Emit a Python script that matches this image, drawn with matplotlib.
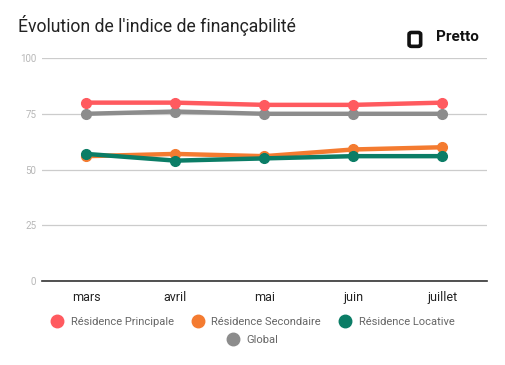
import matplotlib.pyplot as plt
from matplotlib.lines import Line2D
from matplotlib.patches import FancyBboxPatch

plt.rcParams['font.family'] = ['Roboto', 'DejaVu Sans']

months = ['mars', 'avril', 'mai', 'juin', 'juillet']
principale = [80, 80, 79, 79, 80]
secondaire = [56, 57, 56, 59, 60]
locative = [57, 54, 55, 56, 56]
global_idx = [75, 76, 75, 75, 75]

series = [
    ('Résidence Principale', principale, '#ff5a5f'),
    ('Résidence Secondaire', secondaire, '#f47b30'),
    ('Résidence Locative', locative, '#0b7d66'),
    ('Global', global_idx, '#8c8c8c'),
]

fig = plt.figure(figsize=(5.05, 3.65), dpi=100)
ax = fig.add_axes([0.083, 0.230, 0.881, 0.611])

x = range(len(months))
# global drawn first so it sits behind
for name, vals, col in [series[3], series[0], series[1], series[2]]:
    ax.plot(x, vals, color=col, lw=3.2, marker='o', ms=7, solid_capstyle='round', zorder=3)

ax.set_ylim(0, 100)
ax.set_xlim(-0.5, 4.5)
ax.set_yticks([0, 25, 50, 75, 100])
ax.yaxis.grid(True, color='#cccccc', lw=0.9)
ax.set_axisbelow(True)
for s in ['top', 'right', 'left']:
    ax.spines[s].set_visible(False)
ax.spines['bottom'].set_color('#333333')
ax.spines['bottom'].set_linewidth(1.2)
ax.tick_params(axis='y', length=0, labelsize=7, labelcolor='#b7b7b7', pad=4)
ax.tick_params(axis='x', length=0, labelsize=9, labelcolor='#222222', pad=7)
ax.set_xticks(list(x))
ax.set_xticklabels(months)

fig.text(0.036, 0.912, "Évolution de l'indice de finançabilité", fontsize=12.7, color='#222222')

# logo
fig.text(0.948, 0.888, 'Pretto', fontsize=11, fontweight='bold', ha='right', color='#111111')
logo = FancyBboxPatch((0.815, 0.878), 0.013, 0.028, boxstyle='round,pad=0.005',
                      transform=fig.transFigure, facecolor='white', edgecolor='#111111', lw=2.6)
fig.patches.append(logo)

handles = [Line2D([], [], ls='none', marker='o', ms=9, color=c) for _, _, c in series]
labels = [n for n, _, _ in series]
kw = dict(frameon=False, fontsize=8, labelcolor='#666666', handletextpad=0.6, handlelength=1.2)
leg1 = fig.legend(handles[:3], labels[:3], loc='center', bbox_to_anchor=(0.5, 0.118), ncol=3,
                  columnspacing=1.6, **kw)
leg2 = fig.legend(handles[3:], labels[3:], loc='center', bbox_to_anchor=(0.5, 0.068), ncol=1, **kw)

fig.savefig('out.png', dpi=100)
